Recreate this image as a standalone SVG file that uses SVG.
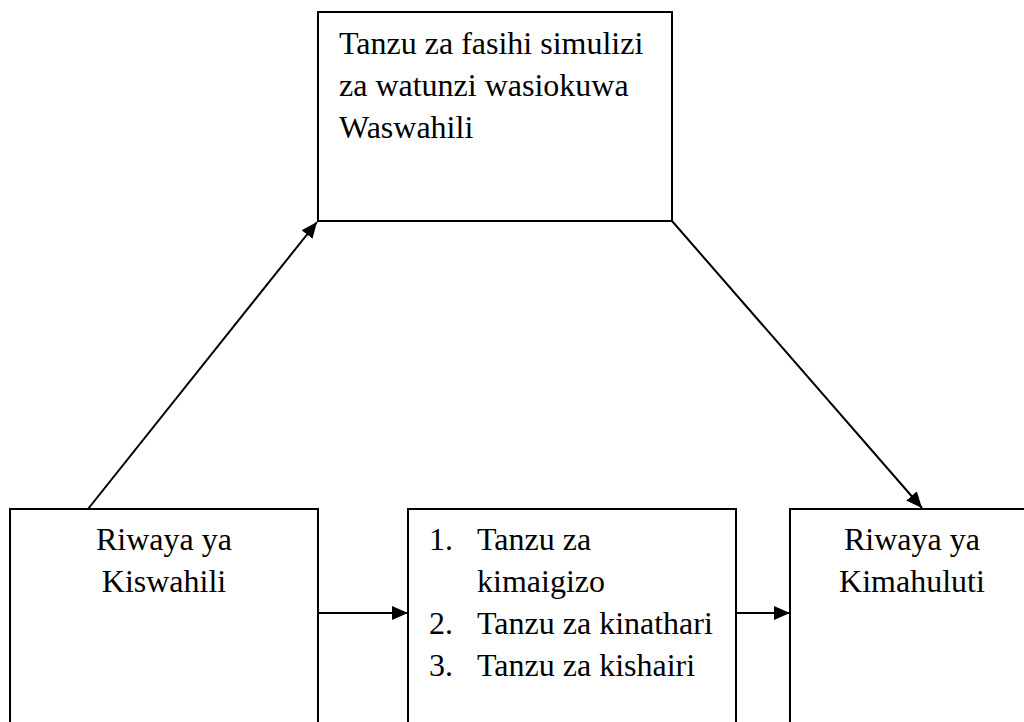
<svg xmlns="http://www.w3.org/2000/svg" width="1024" height="722" viewBox="0 0 1024 722">
<defs>
<marker id="arr" markerWidth="16" markerHeight="14" refX="16" refY="7" orient="auto" markerUnits="userSpaceOnUse">
<path d="M0,0 L16,7 L0,14 Z" fill="#000"/>
</marker>
<style>
.box{fill:#fff;stroke:#000;stroke-width:2}
.t{font-family:"Liberation Serif","Times New Roman",serif;font-size:32px;fill:#000}
.c{text-anchor:middle}
.ln{stroke:#000;stroke-width:2;fill:none;marker-end:url(#arr)}
</style>
</defs>
<rect width="1024" height="722" fill="#fff"/>
<g id="connectors">
<line class="ln" x1="88" y1="509" x2="317" y2="222"/>
<line class="ln" x1="672" y1="221" x2="922" y2="508"/>
<line class="ln" x1="318" y1="613" x2="408" y2="613"/>
<line class="ln" x1="736" y1="613" x2="790" y2="613"/>
</g>
<g id="top">
<rect class="box" x="318" y="12" width="354" height="209"/>
<text class="t" x="339" y="54">Tanzu za fasihi simulizi</text>
<text class="t" x="339" y="96">za watunzi wasiokuwa</text>
<text class="t" x="339" y="138">Waswahili</text>
</g>
<g id="left">
<rect class="box" x="10" y="509" width="308" height="230"/>
<text class="t c" x="164" y="550">Riwaya ya</text>
<text class="t c" x="164" y="592">Kiswahili</text>
</g>
<g id="middle">
<rect class="box" x="408" y="509" width="328" height="230"/>
<text class="t" x="429" y="550">1.</text>
<text class="t" x="477" y="550">Tanzu za</text>
<text class="t" x="477" y="592">kimaigizo</text>
<text class="t" x="429" y="634">2.</text>
<text class="t" x="477" y="634">Tanzu za kinathari</text>
<text class="t" x="429" y="676">3.</text>
<text class="t" x="477" y="676">Tanzu za kishairi</text>
</g>
<g id="right">
<rect class="box" x="790" y="509" width="260" height="230"/>
<text class="t c" x="912" y="550">Riwaya ya</text>
<text class="t c" x="912" y="592">Kimahuluti</text>
</g>
</svg>
